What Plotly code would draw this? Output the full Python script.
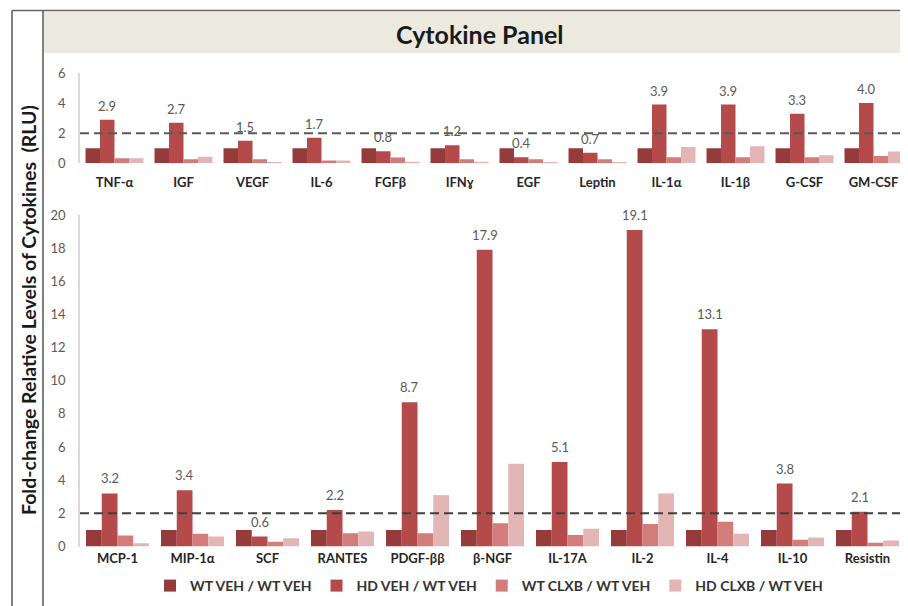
import plotly.graph_objects as go

# ---------------- data ----------------
top_categories = ["TNF-α", "IGF", "VEGF", "IL-6", "FGFβ", "IFNɣ", "EGF", "Leptin",
                  "IL-1α", "IL-1β", "G-CSF", "GM-CSF"]
top_wt_veh = [1, 1, 1, 1, 1, 1, 1, 1, 1, 1, 1, 1]
top_hd_veh = [2.9, 2.7, 1.5, 1.7, 0.8, 1.2, 0.4, 0.7, 3.9, 3.9, 3.3, 4.0]
top_wt_clxb = [0.33, 0.27, 0.27, 0.18, 0.38, 0.27, 0.27, 0.27, 0.40, 0.40, 0.40, 0.49]
top_hd_clxb = [0.33, 0.44, 0.07, 0.18, 0.10, 0.10, 0.07, 0.07, 1.09, 1.13, 0.53, 0.78]

bot_categories = ["MCP-1", "MIP-1α", "SCF", "RANTES", "PDGF-ββ", "β-NGF", "IL-17A",
                  "IL-2", "IL-4", "IL-10", "Resistin"]
bot_wt_veh = [1, 1, 1, 1, 1, 1, 1, 1, 1, 1, 1]
bot_hd_veh = [3.2, 3.4, 0.6, 2.2, 8.7, 17.9, 5.1, 19.1, 13.1, 3.8, 2.1]
bot_wt_clxb = [0.66, 0.77, 0.28, 0.80, 0.80, 1.40, 0.70, 1.35, 1.50, 0.40, 0.22]
bot_hd_clxb = [0.20, 0.60, 0.50, 0.90, 3.10, 5.00, 1.07, 3.20, 0.77, 0.55, 0.36]

series_names = ["WT VEH / WT VEH", "HD VEH / WT VEH", "WT CLXB / WT VEH", "HD CLXB / WT VEH"]
threshold = 2
top_ticks = [0, 2, 4, 6]
bot_ticks = [0, 2, 4, 6, 8, 10, 12, 14, 16, 18, 20]

# ---------------- styling ----------------
colors = ["#963B3B", "#B54A4A", "#D27C7C", "#E4B5B5"]
OFF = 8  # page body margin in the browser
W, H = 908 - OFF, 606 - OFF
FONT = "Lato, 'Open Sans', sans-serif"


def px(x):
    return (x - OFF) / W


def py(y):
    return 1 - (y - OFF) / H


fig = go.Figure()

top_series = [top_wt_veh, top_hd_veh, top_wt_clxb, top_hd_clxb]
bot_series = [bot_wt_veh, bot_hd_veh, bot_wt_clxb, bot_hd_clxb]

for i, (name, vals) in enumerate(zip(series_names, top_series)):
    fig.add_trace(go.Bar(x=top_categories, y=vals, name=name, marker_color=colors[i],
                         marker_line_width=0, xaxis="x", yaxis="y", showlegend=True,
                         legendgroup=name))
for i, (name, vals) in enumerate(zip(series_names, bot_series)):
    fig.add_trace(go.Bar(x=bot_categories, y=vals, name=name, marker_color=colors[i],
                         marker_line_width=0, xaxis="x2", yaxis="y2", showlegend=False,
                         legendgroup=name))

annotations = []
# value labels above HD VEH bars
for c, v in zip(top_categories, top_hd_veh):
    annotations.append(dict(x=c, y=v, xref="x", yref="y", text=f"{v:.1f}", showarrow=False,
                            yanchor="bottom", xshift=-7.3, yshift=4,
                            font=dict(family=FONT, size=13, color="#595959")))
for c, v in zip(bot_categories, bot_hd_veh):
    annotations.append(dict(x=c, y=v, xref="x2", yref="y2", text=f"{v:.1f}", showarrow=False,
                            yanchor="bottom", xshift=-7.9, yshift=5,
                            font=dict(family=FONT, size=13, color="#595959")))

# title
annotations.append(dict(x=px(480), y=py(34), xref="paper", yref="paper", text="Cytokine Panel",
                        showarrow=False, xanchor="center", yanchor="middle",
                        font=dict(family=FONT, size=25, color="#1a1a1a", weight="bold")))
# y-axis title
annotations.append(dict(x=px(28), y=py(310), xref="paper", yref="paper",
                        text="Fold-change Relative Levels of Cytokines  (RLU)",
                        showarrow=False, textangle=-90, xanchor="center", yanchor="middle",
                        font=dict(family=FONT, size=19.5, color="#1a1a1a", weight="bold")))

shapes = [
    # title band
    dict(type="rect", xref="paper", yref="paper", x0=px(44), x1=1, y0=py(53), y1=py(12),
         fillcolor="#ECE9DF", line_width=0, layer="below"),
    # frame lines
    dict(type="line", xref="paper", yref="paper", x0=px(12), x1=1, y0=py(10.5), y1=py(10.5),
         line=dict(color="#666666", width=1.5)),
    dict(type="line", xref="paper", yref="paper", x0=px(12), x1=px(12), y0=0, y1=py(10.5),
         line=dict(color="#555555", width=1.5)),
    dict(type="line", xref="paper", yref="paper", x0=px(43), x1=px(43), y0=0, y1=py(10.5),
         line=dict(color="#555555", width=1.5)),
    # threshold lines
    dict(type="line", xref="x domain", yref="y", x0=0, x1=1, y0=threshold, y1=threshold,
         line=dict(color="#595959", width=2, dash="9px,5px")),
    dict(type="line", xref="x2 domain", yref="y2", x0=0, x1=1, y0=threshold, y1=threshold,
         line=dict(color="#404040", width=2, dash="9px,5px")),
]

axis_common = dict(showgrid=False, zeroline=False, automargin=False)

fig.update_layout(
    width=W, height=H,
    margin=dict(l=0, r=0, t=0, b=0),
    paper_bgcolor="white", plot_bgcolor="rgba(0,0,0,0)",
    barmode="group", bargap=0.16, bargroupgap=0,
    font=dict(family=FONT, color="#595959"),
    xaxis=dict(domain=[px(80), 1], anchor="y", showline=False, ticks="",
               tickfont=dict(family=FONT, size=13, color="#262626", weight="bold"),
               ticklabelstandoff=10, **axis_common),
    yaxis=dict(domain=[py(163.3), py(73)], anchor="x", range=[0, 6], tickvals=top_ticks,
               showline=True, linecolor="#D9D9D9", linewidth=1.5, ticks="",
               tickfont=dict(family=FONT, size=13, color="#595959"), ticklabelstandoff=10,
               **axis_common),
    xaxis2=dict(domain=[px(80), px(905)], anchor="y2", showline=False, ticks="",
                tickfont=dict(family=FONT, size=13, color="#262626", weight="bold"),
                ticklabelstandoff=2, **axis_common),
    yaxis2=dict(domain=[py(546.5), py(215)], anchor="x2", range=[0, 20], tickvals=bot_ticks,
                showline=True, linecolor="#D9D9D9", linewidth=1.5, ticks="",
                tickfont=dict(family=FONT, size=13, color="#595959"), ticklabelstandoff=10,
                **axis_common),
    legend=dict(orientation="h", x=px(489), xanchor="center", y=py(586), yanchor="middle",
                font=dict(family=FONT, size=14, color="#333333", weight="bold"),
                itemwidth=30, bgcolor="rgba(0,0,0,0)", traceorder="normal"),
    annotations=annotations,
    shapes=shapes,
)

fig.write_html("out.html")
